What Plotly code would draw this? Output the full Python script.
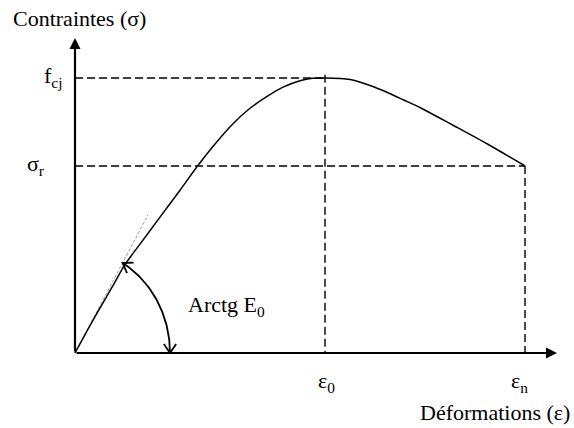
import math
import plotly.graph_objects as go

# Stress-strain law of concrete in compression (strain in per mille, stress in MPa)
EPS = [0, 0.16, 0.3, 0.4, 0.52, 0.68, 0.84, 0.98, 1.12, 1.26, 1.4, 1.54, 1.66, 1.8,
       1.9, 2.0, 2.12, 2.22, 2.36, 2.5, 2.63, 2.76, 3.02, 3.3, 3.6]
SIG = [0, 3.3, 6.05, 8.05, 9.9, 12.35, 14.8, 17.0, 19.0, 20.8, 22.25, 23.35, 24.15, 24.75,
       24.97, 25.0, 24.95, 24.82, 24.32, 23.68, 23.0, 22.32, 20.73, 19.0, 17.0]

EPS0 = 2.0      # strain at peak stress
EPSN = 3.6      # ultimate strain
FCJ = 25.0      # peak stress
SIGR = 17.0     # stress at ultimate strain
E0 = 21.5       # initial tangent modulus (MPa per per-mille)
TANGENT_END = 0.584

# screen scale of the axes (pixels per unit)
W, H = 574, 428
X_RANGE = [-0.6, -0.6 + W / 125.0]
Y_RANGE = [-6.818, -6.818 + H / 11.0]
SX = W / (X_RANGE[1] - X_RANGE[0])
SY = H / (Y_RANGE[1] - Y_RANGE[0])

BLACK = "#000000"
SERIF = "Liberation Serif"

fig = go.Figure()

# reference dashed guides
dash = dict(color=BLACK, width=1.4, dash="8px,4px")
for xs, ys in [([0, EPS0], [FCJ, FCJ]), ([EPS0, EPS0], [FCJ + 0.3, 0]),
               ([0, EPSN], [SIGR, SIGR]), ([EPSN, EPSN], [SIGR, 0])]:
    fig.add_trace(go.Scatter(x=xs, y=ys, mode="lines", line=dash,
                             hoverinfo="skip", showlegend=False))

# initial tangent
fig.add_trace(go.Scatter(x=[0, TANGENT_END], y=[0, E0 * TANGENT_END], mode="lines",
                         line=dict(color="#9a9a9a", width=1, dash="3px,2px"),
                         hoverinfo="skip", showlegend=False))

# stress-strain curve
fig.add_trace(go.Scatter(x=EPS, y=SIG, mode="lines", line_shape="spline",
                         line=dict(color=BLACK, width=1.5, smoothing=0.6),
                         hoverinfo="skip", showlegend=False))

# angle arc between the strain axis and the initial tangent
phi = math.atan(E0 * SY / SX)
a_px, b_px = 95.0, 104.0
t1 = math.atan(math.tan(phi) * a_px / b_px)
n = 60
ts = [t1 * i / n for i in range(n + 1)]
arc_x = [a_px * math.cos(t) / SX for t in ts]
arc_y = [b_px * math.sin(t) / SY for t in ts]
fig.add_trace(go.Scatter(x=arc_x, y=arc_y, mode="lines",
                         line=dict(color=BLACK, width=1.8),
                         hoverinfo="skip", showlegend=False))


def chevron(t, sign):
    """Open arrow head at parameter t of the arc, pointing along +/- tangent."""
    tx, ty = -a_px * math.sin(t) * sign, b_px * math.cos(t) * sign
    norm = math.hypot(tx, ty)
    tx, ty = tx / norm, ty / norm
    px, py = a_px * math.cos(t), b_px * math.sin(t)
    arm, ang = 11.0, math.radians(34)
    xs, ys = [], []
    for s in (1, -1):
        c, si = math.cos(s * ang), math.sin(s * ang)
        bx, by = -(tx * c - ty * si), -(tx * si + ty * c)
        xs.append((px + arm * bx) / SX)
        ys.append((py + arm * by) / SY)
    return [xs[0], px / SX, xs[1]], [ys[0], py / SY, ys[1]]


for t, sgn in [(0.0, -1), (t1, 1)]:
    cx, cy = chevron(t, sgn)
    fig.add_trace(go.Scatter(x=cx, y=cy, mode="lines",
                             line=dict(color=BLACK, width=1.8),
                             hoverinfo="skip", showlegend=False))

# axes with arrow heads
y_top = (353 - 38) / SY
x_end = (557 - 75) / SX
for (x, y) in [(0, y_top), (x_end, 0)]:
    fig.add_annotation(x=x, y=y, ax=0, ay=0, xref="x", yref="y", axref="x", ayref="y",
                       showarrow=True, arrowhead=2, arrowsize=1, arrowwidth=2.2,
                       arrowcolor=BLACK, text="")

font = dict(family=SERIF, size=22, color=BLACK)
labels = [
    dict(x=X_RANGE[0], y=Y_RANGE[1], text="Contraintes (σ)", xanchor="left",
         yanchor="top", xshift=11, yshift=-4),
    dict(x=0, y=FCJ, text="f<sub>cj</sub>", xanchor="right", yanchor="middle",
         xshift=-11, yshift=1),
    dict(x=0, y=SIGR, text="σ<sub>r</sub>", xanchor="right", yanchor="middle",
         xshift=-29, yshift=1),
    dict(x=EPS0, y=0, text="ε<sub>0</sub>", xanchor="center", yanchor="middle",
         yshift=-29, xshift=1),
    dict(x=EPSN, y=0, text="ε<sub>n</sub>", xanchor="center", yanchor="middle",
         yshift=-29, xshift=-6),
    dict(x=X_RANGE[1], y=0, text="Déformations (ε)", xanchor="right",
         yanchor="middle", yshift=-59, xshift=-2),
    dict(x=0.89, y=4.3, text="Arctg E<sub>0</sub>", xanchor="left", yanchor="middle"),
]
for lab in labels:
    fig.add_annotation(showarrow=False, font=font, xref="x", yref="y", **lab)

fig.update_xaxes(range=X_RANGE, visible=False)
fig.update_yaxes(range=Y_RANGE, visible=False)
fig.update_layout(width=W, height=H, margin=dict(l=0, r=0, t=0, b=0),
                  template="none", font=dict(family=SERIF, color=BLACK),
                  paper_bgcolor="white", plot_bgcolor="white")

fig.write_html("out.html")
